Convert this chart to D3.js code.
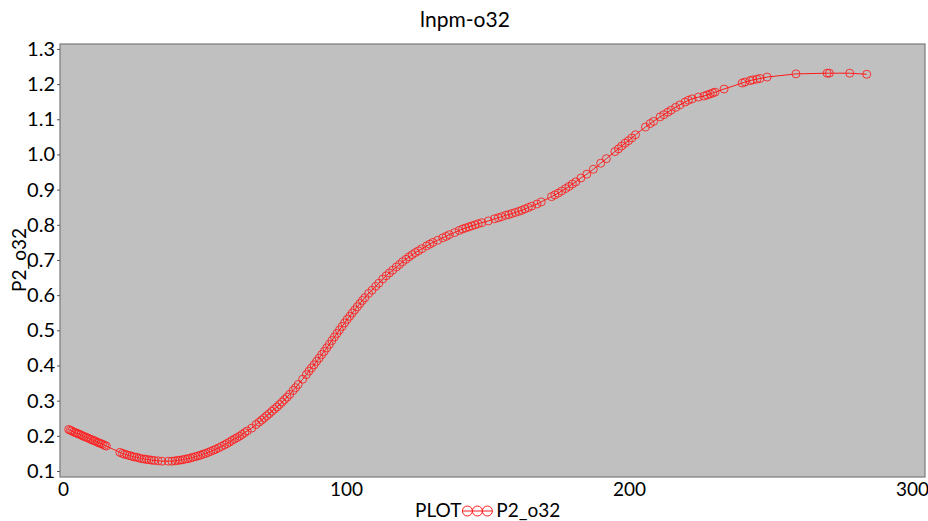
<!DOCTYPE html>
<html><head><meta charset="utf-8">
<script src="https://cdn.jsdelivr.net/npm/d3@7"></script>
<style>
html,body{margin:0;padding:0;background:#fff;}
svg text{font-family:Lato,"Liberation Sans",sans-serif;fill:#000;}
</style></head>
<body><svg id="c" width="928" height="521"></svg>
<script>
const title = "lnpm-o32";
const xLabel = "P2_o32";
const yLabel = "P2_o32";
const legendPrefix = "PLOT";
const xTicks = [0, 100, 200, 300];
const yTicks = [0.1,0.2,0.3,0.4,0.5,0.6,0.7,0.8,0.9,1.0,1.1,1.2,1.3];
const xs = [2.0,2.6,3.1,3.8,4.4,5.0,5.6,6.3,6.9,7.5,8.2,8.8,9.5,10.1,10.8,11.4,12.1,12.7,13.4,14.0,14.7,15.3,
20.1,21.0,21.8,22.6,23.5,24.3,25.1,26.0,26.9,27.8,28.7,29.5,30.4,31.3,32.2,33.6,35.0,37.2,38.5,39.6,40.5,41.4,42.3,43.2,44.1,45.0,45.9,46.8,47.7,48.6,49.5,50.4,51.3,52.2,53.1,54.0,55.0,56.0,57.0,57.9,58.8,59.7,60.6,61.5,62.4,63.3,64.2,65.1,66.7,68.2,69.3,70.2,71.1,72.0,72.9,73.8,74.7,75.6,76.5,77.4,78.3,79.2,80.1,81.3,82.2,83.1,84.7,86.0,86.9,87.8,88.7,89.6,90.5,91.4,92.3,93.2,94.1,95.0,95.9,96.8,97.7,98.6,99.5,100.4,101.3,102.2,103.1,104.0,104.9,105.8,106.7,108.0,109.2,110.5,111.6,113.0,114.2,115.3,116.5,117.8,118.9,120.0,121.2,122.3,123.4,124.5,125.6,126.8,128.5,129.6,130.7,132.4,134.2,135.4,136.5,138.4,140.0,141.2,142.3,143.4,144.5,145.6,146.7,148.0,150.3,152.5,153.8,155.0,156.4,157.5,158.6,159.8,161.0,162.1,163.2,164.4,165.6,167.5,169.0,172.6,173.8,175.0,176.2,177.6,178.8,180.0,181.2,183.0,185.1,187.4,190.0,192.0,195.0,196.3,197.4,198.6,199.8,201.0,202.3,205.8,207.5,208.7,211.0,212.3,213.7,214.9,216.5,218.0,219.8,221.0,222.3,224.5,226.5,227.6,228.7,229.6,230.4,233.6,240.0,241.0,242.8,243.8,245.2,246.3,248.8,259.0,270.0,270.8,278.0,284.0];
const ys = [0.218,0.216,0.214,0.211,0.209,0.207,0.205,0.203,0.200,0.198,0.196,0.194,0.191,0.189,0.187,0.185,0.182,0.180,0.178,0.176,0.173,0.171,
0.153,0.150,0.148,0.146,0.144,0.142,0.140,0.139,0.137,0.135,0.134,0.133,0.132,0.131,0.130,0.129,0.128,0.128,0.128,0.129,0.130,0.131,0.132,0.134,0.135,0.137,0.139,0.141,0.143,0.145,0.148,0.150,0.153,0.156,0.159,0.162,0.166,0.170,0.174,0.178,0.182,0.187,0.191,0.195,0.199,0.204,0.209,0.214,0.222,0.232,0.239,0.245,0.251,0.257,0.263,0.270,0.276,0.282,0.289,0.296,0.303,0.310,0.318,0.329,0.337,0.346,0.361,0.374,0.384,0.393,0.402,0.412,0.421,0.431,0.440,0.450,0.460,0.471,0.481,0.491,0.501,0.511,0.521,0.531,0.540,0.549,0.558,0.567,0.576,0.585,0.593,0.605,0.614,0.625,0.634,0.646,0.655,0.663,0.671,0.680,0.687,0.695,0.702,0.709,0.715,0.721,0.726,0.732,0.740,0.745,0.750,0.756,0.763,0.767,0.772,0.778,0.784,0.788,0.791,0.794,0.797,0.800,0.803,0.806,0.811,0.817,0.820,0.823,0.827,0.829,0.832,0.835,0.838,0.841,0.845,0.849,0.853,0.859,0.865,0.880,0.885,0.890,0.896,0.903,0.909,0.916,0.922,0.933,0.944,0.958,0.975,0.988,1.008,1.016,1.024,1.032,1.039,1.047,1.056,1.078,1.088,1.094,1.107,1.113,1.120,1.126,1.134,1.141,1.149,1.154,1.158,1.163,1.166,1.169,1.172,1.175,1.177,1.186,1.203,1.206,1.210,1.212,1.214,1.216,1.220,1.229,1.231,1.231,1.231,1.228];

const data = xs.map((x,i)=>({x, y: ys[i]}));
const svg = d3.select("#c");
const L = 60, R = 925, T = 44, B = 477;
const x = d3.scaleLinear().domain([-1.06, 304.6]).range([L, R]);
const y = d3.scaleLinear().domain([0.083, 1.314]).range([B, T]);
const red = "#ff1a1a";

svg.append("rect").attr("x",L).attr("y",T).attr("width",R-L).attr("height",B-T)
  .attr("fill","#c0c0c0").attr("stroke","#7a7a7a").attr("stroke-width",1.2);

const fs = 19;
const yAxis = svg.append("g").attr("transform",`translate(${L},0)`)
  .call(d3.axisLeft(y).tickValues(yTicks).tickFormat(d3.format(".1f")).tickSize(3).tickPadding(2));
const xAxis = svg.append("g").attr("transform",`translate(0,${B})`)
  .call(d3.axisBottom(x).tickValues(xTicks).tickFormat(d3.format("d")).tickSize(0).tickPadding(6));
[yAxis,xAxis].forEach(g=>{
  g.select(".domain").remove();
  g.selectAll("line").attr("stroke","#555");
  g.selectAll("text").attr("font-size",fs).attr("font-family","Lato, 'Liberation Sans', sans-serif").attr("fill","#000");
});
yAxis.selectAll("text").attr("font-size",20);

svg.append("path").datum(data)
  .attr("d", d3.line().x(d=>x(d.x)).y(d=>y(d.y)))
  .attr("fill","none").attr("stroke",red).attr("stroke-width",1);
svg.append("g").selectAll("circle").data(data).join("circle")
  .attr("cx",d=>x(d.x)).attr("cy",d=>y(d.y)).attr("r",4)
  .attr("fill","none").attr("stroke",red).attr("stroke-width",1).attr("stroke-opacity",0.85);

svg.append("text").attr("x",465).attr("y",27).attr("text-anchor","middle").attr("font-size",21).text(title);
svg.append("text").attr("transform","translate(26,260) rotate(-90)").attr("text-anchor","middle").attr("font-size",fs).text(yLabel);

// legend
const lg = svg.append("g");
const lt = lg.append("text").attr("x",415).attr("y",517).attr("font-size",fs).text(legendPrefix);
const lw = lt.node().getComputedTextLength();
const sx = 415 + lw + 1;
lg.append("line").attr("x1",sx).attr("x2",sx+30).attr("y1",511).attr("y2",511).attr("stroke",red);
[0,1,2].forEach(i=>lg.append("circle").attr("cx",sx+5+i*10).attr("cy",511).attr("r",5)
  .attr("fill","none").attr("stroke",red).attr("stroke-width",1));
lg.append("text").attr("x",sx+34).attr("y",517).attr("font-size",fs).text(xLabel);
</script></body></html>
